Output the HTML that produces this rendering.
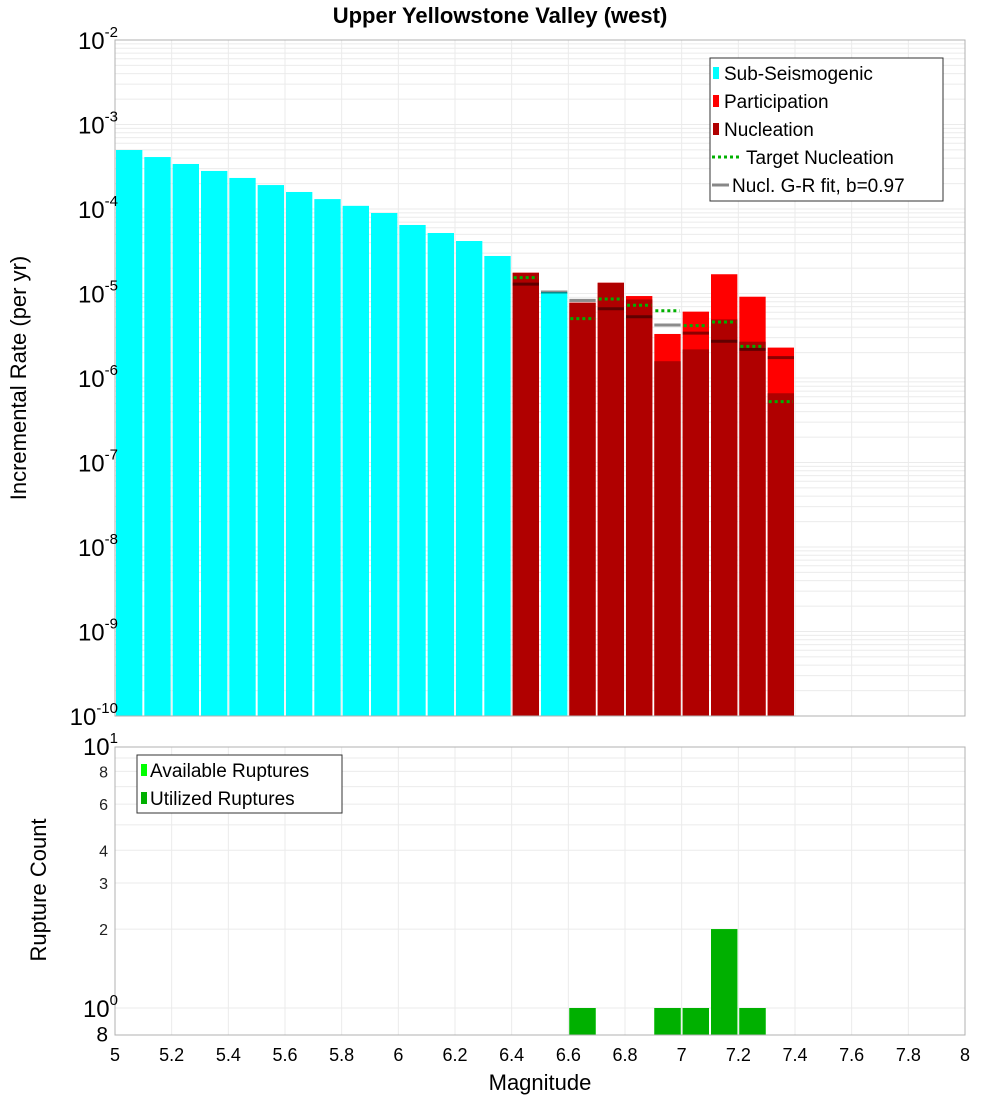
<!DOCTYPE html>
<html><head><meta charset="utf-8"><style>
body{margin:0;background:#fff;width:1000px;height:1100px;overflow:hidden}
svg{font-family:"Liberation Sans","DejaVu Sans",sans-serif}
</style></head><body>
<svg id="c" width="1000" height="1100" xmlns="http://www.w3.org/2000/svg"></svg>
<script>
const mags=[5.05,5.15,5.25,5.35,5.45,5.55,5.65,5.75,5.85,5.95,6.05,6.15,6.25,6.35,6.45,6.55,6.65,6.75,6.85,6.95,7.05,7.15,7.25,7.35];
const subSeis=[4.99e-4,4.12e-4,3.41e-4,2.82e-4,2.33e-4,1.92e-4,1.59e-4,1.31e-4,1.09e-4,8.97e-5,6.47e-5,5.20e-5,4.18e-5,2.78e-5,0,1.04e-5,0,0,0,0,0,0,0,0];
const partic=[0,0,0,0,0,0,0,0,0,0,0,0,0,0,1.76e-5,0,7.78e-6,1.34e-5,9.33e-6,3.32e-6,6.1e-6,1.69e-5,9.16e-6,2.29e-6];
const nucl=[0,0,0,0,0,0,0,0,0,0,0,0,0,0,1.76e-5,0,7.78e-6,1.34e-5,8.5e-6,1.58e-6,2.18e-6,4.94e-6,2.69e-6,6.6e-7];
const targetNucl=[0,0,0,0,0,0,0,0,0,0,0,0,0,0,1.54e-5,0,5.04e-6,8.6e-6,7.25e-6,6.26e-6,4.16e-6,4.6e-6,2.37e-6,5.25e-7];
const grFit=[0,0,0,0,0,0,0,0,0,0,0,0,0,0,1.29e-5,1.04e-5,8.3e-6,6.6e-6,5.3e-6,4.24e-6,3.4e-6,2.72e-6,2.18e-6,1.74e-6];
const countMags=[6.65,6.95,7.05,7.15,7.25];
const available=[1,1,1,2,1];
const utilized=[1,1,1,2,1];
const xTicks=["5","5.2","5.4","5.6","5.8","6","6.2","6.4","6.6","6.8","7","7.2","7.4","7.6","7.8","8"];
const topDecades=[-2,-3,-4,-5,-6,-7,-8,-9,-10];

const svg=document.getElementById('c');
const NS='http://www.w3.org/2000/svg';
function mk(t,a,p){const e=document.createElementNS(NS,t);for(const k in a)e.setAttribute(k,a[k]);(p||svg).appendChild(e);return e;}
const X0=115,X1=965;
const xs=m=>X0+(m-5)/3*(X1-X0);
const T0=40,T1=716;
const ys=v=>T0+(-2-Math.log10(v))*(T1-T0)/8;
const B0=747,B1=1035;
const yb=v=>1008-Math.log10(v)*262;

// top grid
const gTop=mk('g',{});


for(let d=-10;d<-2;d++){for(let k=1;k<10;k++){const y=ys(k*Math.pow(10,d));mk('line',{x1:X0,x2:X1,y1:y,y2:y,stroke:'#ebebeb','stroke-width':1},gTop);}}
xTicks.forEach(t=>{const x=xs(+t);mk('line',{x1:x,x2:x,y1:T0,y2:T1,stroke:'#ebebeb'},gTop);mk('line',{x1:x,x2:x,y1:B0,y2:B1,stroke:'#ebebeb'},gTop);});
[2,3,4,5,6,7,8,9].forEach(v=>{const y=yb(v);mk('line',{x1:X0,x2:X1,y1:y,y2:y,stroke:'#ebebeb'},gTop);});
const yb1=yb(1);mk('line',{x1:X0,x2:X1,y1:yb1,y2:yb1,stroke:'#ebebeb'},gTop);

const bw=(X1-X0)/30;
function bar(m,v,col,name,bot){if(!v)return;const y=ys(v);const r=mk('rect',{x:xs(m)-bw/2+1,y:y,width:bw-2,height:bot-y,fill:col});

}
mags.forEach((m,i)=>{bar(m,subSeis[i],'#00ffff','sub-seismogenic-bar',T1);bar(m,partic[i],'#ff0000','participation-bar',T1);bar(m,nucl[i],'#b00000','nucleation-bar',T1);});
mags.forEach((m,i)=>{if(grFit[i]){const y=ys(grFit[i]);const l=mk('line',{x1:xs(m)-bw/2+1,x2:xs(m)+bw/2-1,y1:y,y2:y,stroke:'rgba(0,0,0,0.45)','stroke-width':3});

}
if(targetNucl[i]){const y=ys(targetNucl[i]);const l=mk('line',{x1:xs(m)-bw/2+2,x2:xs(m)+bw/2-2,y1:y,y2:y,stroke:'#00b000','stroke-width':3,'stroke-dasharray':'3,3'});

}});
mk('rect',{x:X0,y:T0,width:X1-X0,height:T1-T0,fill:'none',stroke:'#b0b0b0'});

// bottom bars
countMags.forEach((m,i)=>{let y=yb(available[i]);let r=mk('rect',{x:xs(m)-bw/2+1,y:y,width:bw-2,height:B1-y,fill:'#00ff00'});


y=yb(utilized[i]);r=mk('rect',{x:xs(m)-bw/2+1,y:y,width:bw-2,height:B1-y,fill:'#00b000'});

});
mk('rect',{x:X0,y:B0,width:X1-X0,height:B1-B0,fill:'none',stroke:'#b0b0b0'});

function txt(x,y,s,a,name){const t=mk('text',Object.assign({x:x,y:y},a||{}));t.textContent=s;

return t;}
function pow10(xr,y,e,name,size){const t=mk('text',{x:xr,y:y,'text-anchor':'end','font-size':size||24});


const a=document.createElementNS(NS,'tspan');a.textContent='10';t.appendChild(a);
const b=document.createElementNS(NS,'tspan');b.setAttribute('font-size','15');b.setAttribute('dy','-12');b.textContent=e;t.appendChild(b);}
topDecades.forEach(d=>{pow10(118,ys(Math.pow(10,d))+9,String(d),'y-tick-label');});
pow10(118,yb(10)+9,'1','y-tick-label-bottom');
pow10(118,yb(1)+9,'0','y-tick-label-bottom');
[[8,16],[6,16],[4,16],[3,16],[2,16]].forEach(([v,s])=>txt(108,yb(v)+6,String(v),{'text-anchor':'end','font-size':s,fill:'#222'},'y-tick-label-bottom'));
txt(108,yb(0.8)+8,'8',{'text-anchor':'end','font-size':21},'y-tick-label-bottom');
xTicks.forEach(t=>txt(xs(+t),1061,t,{'text-anchor':'middle','font-size':18},'x-tick-label'));
txt(540,1090,'Magnitude',{'text-anchor':'middle','font-size':22},'x-axis-title');
txt(500,23,'Upper Yellowstone Valley (west)',{'text-anchor':'middle','font-size':22,'font-weight':'bold'},'chart-title');
txt(0,0,'Incremental Rate (per yr)',{'text-anchor':'middle','font-size':22,transform:'translate(26,378) rotate(-90)'},'y-axis-title');
txt(0,0,'Rupture Count',{'text-anchor':'middle','font-size':22,transform:'translate(46,890) rotate(-90)'},'y-axis-title-bottom');

// legends
const lg=mk('g',{});
mk('rect',{x:710,y:58,width:233,height:143,fill:'#fff',stroke:'#333'},lg);
const items=[['Sub-Seismogenic','#00ffff','box'],['Participation','#ff0000','box'],['Nucleation','#b00000','box'],['Target Nucleation','#00b000','dot'],['Nucl. G-R fit, b=0.97','#888','line']];
items.forEach((it,i)=>{const y=73+i*28;
if(it[2]=='box')mk('rect',{x:713,y:y-6,width:6,height:12,fill:it[1]},lg);
else if(it[2]=='dot')mk('line',{x1:712,x2:740,y1:y,y2:y,stroke:it[1],'stroke-width':3,'stroke-dasharray':'3,3'},lg);
else mk('line',{x1:712,x2:729,y1:y,y2:y,stroke:it[1],'stroke-width':3},lg);
txt(it[2]=='box'?724:(it[2]=='dot'?746:732),y+7,it[0],{'font-size':19},'legend-entry');});
const lg2=mk('g',{});
mk('rect',{x:137,y:755,width:205,height:58,fill:'#fff',stroke:'#333'},lg2);
[['Available Ruptures','#00ff00'],['Utilized Ruptures','#00b000']].forEach((it,i)=>{const y=770+i*28;
mk('rect',{x:141,y:y-6,width:6,height:12,fill:it[1]},lg2);
txt(150,y+7,it[0],{'font-size':19},'legend-entry');});
</script>
</body></html>
